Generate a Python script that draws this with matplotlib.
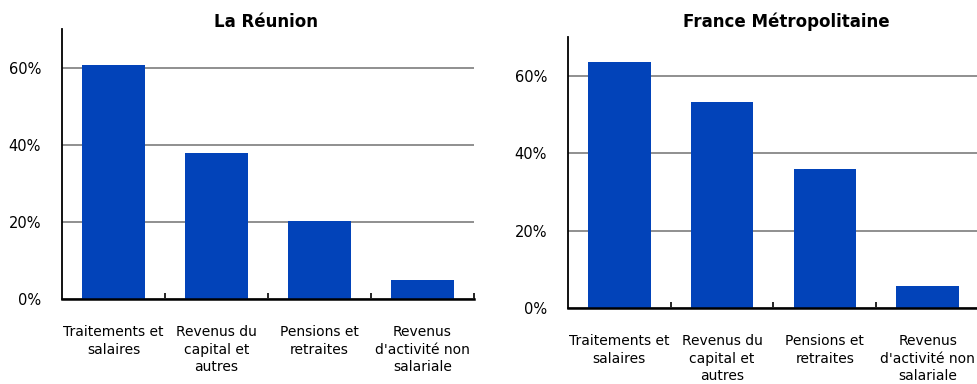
import numpy as np
import matplotlib.pyplot as plt
from matplotlib.ticker import FuncFormatter

# Categories and shares of income (%)
categories = ["Traitements et\nsalaires", "Revenus du\ncapital et\nautres",
              "Pensions et\nretraites", "Revenus\nd'activité non\nsalariale"]
reunion = [60.7, 37.9, 20.3, 4.8]
metropole = [63.5, 53.2, 35.9, 5.7]
titles = ["La Réunion", "France Métropolitaine"]

BLUE = "#0243B9"
W, H = 978, 384

plt.rcParams['font.family'] = ['DejaVu Sans']

fig = plt.figure(figsize=(W / 100, H / 100), dpi=100)

# axes boxes in pixels: left, baseline, right, top
boxes = [(62, 299, 474, 29), (568, 308, 979, 37)]
title_px = [266, 786]

for (l, b, r, t), vals, title, tx in zip(boxes, [reunion, metropole], titles, title_px):
    ax = fig.add_axes([l / W, (H - b) / H, (r - l) / W, (b - t) / H])
    x = np.arange(len(categories))
    ax.bar(x, vals, width=0.61, color=BLUE, zorder=3)
    ax.set_xlim(-0.5, 3.5)
    ax.set_ylim(0, 70)
    ax.set_yticks([0, 20, 40, 60])
    ax.yaxis.set_major_formatter(FuncFormatter(lambda v, p: f"{v:.0f}%"))
    ax.grid(axis='y', color='#8f8f8f', linewidth=1.4, zorder=0)
    ax.set_xticks(x)
    ax.set_xticklabels(categories, fontsize=10, linespacing=1.3, va='top')
    ax.set_xticks(x + 0.5, minor=True)
    ax.tick_params(axis='x', which='major', length=0, pad=19)
    ax.tick_params(axis='x', which='minor', direction='in', length=4, width=1.2, color='black')
    ax.tick_params(axis='y', length=0, pad=15, labelsize=10.5)
    for s in ['top', 'right']:
        ax.spines[s].set_visible(False)
    ax.spines['left'].set_linewidth(1.3)
    ax.spines['bottom'].set_linewidth(1.8)
    ax.spines['bottom'].set_zorder(4)
    fig.text(tx / W, 1 - 22 / H, title, fontsize=12, fontweight='bold',
             ha='center', va='center')

fig.savefig("out.png", dpi=100)
